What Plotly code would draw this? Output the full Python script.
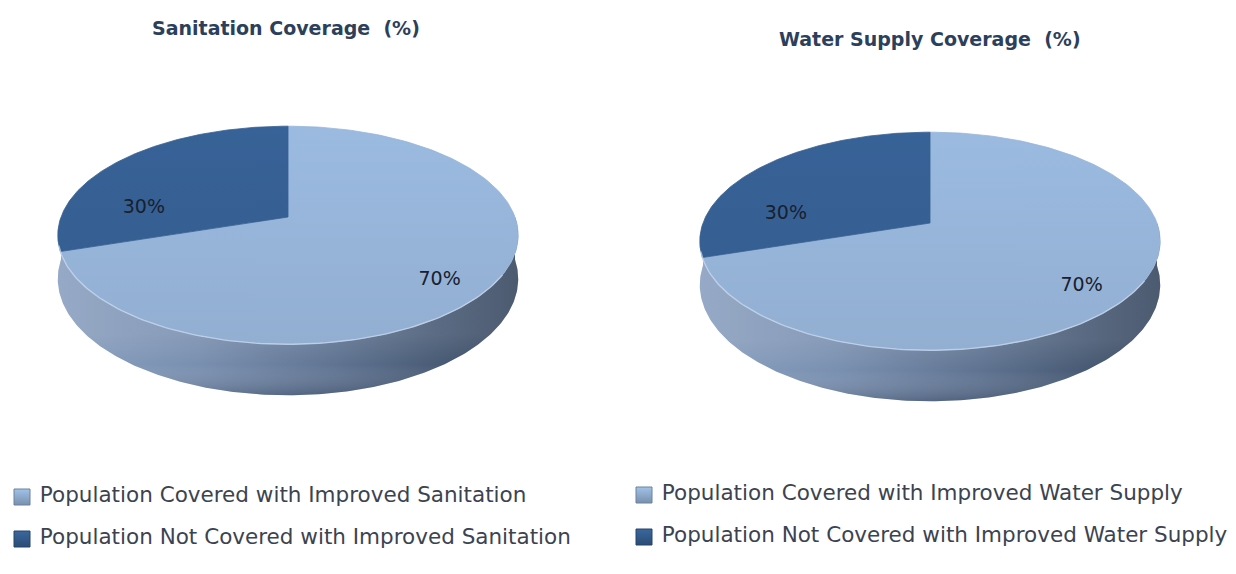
import numpy as np
import plotly.graph_objects as go

# ---- data ----
categories_sanitation = [
    "Population Covered with Improved Sanitation",
    "Population Not Covered with Improved Sanitation",
]
categories_water = [
    "Population Covered with Improved Water Supply",
    "Population Not Covered with Improved Water Supply",
]
sanitation_values = [70, 30]
water_values = [70, 30]
chart_titles = ["Sanitation Coverage  (%)", "Water Supply Coverage  (%)"]

# ---- look ----
W, H = 1236, 574
TOP_COLORS = [(150, 180, 216), (54, 95, 146)]
TEXT_COLOR = "#3c4350"
TITLE_COLOR = "#2c3f5b"
LABEL_COLOR = "#18202e"

# pie geometry (pixels): centre, radii, perspective strength, rim depth
PIES = [
    dict(cx=288, cy=217, title_xy=(286, 28), legend_xy=(22, 497)),
    dict(cx=930, cy=223, title_xy=(930, 39), legend_xy=(644, 495)),
]
RX, RY, PERSP, DEPTH = 227.0, 106.0, 0.167, 42.5
LEGEND_GAP = 42
# label anchors relative to the centre, in units of (RX, RY)
LABEL_ANCHORS = [(0.668, -0.60), (-0.635, 0.085)]

# rim shading, left to right
RIM_SCALE = [
    [0.0, "rgb(138,160,192)"],
    [0.3, "rgb(122,144,176)"],
    [0.6, "rgb(96,116,146)"],
    [0.85, "rgb(70,88,114)"],
    [1.0, "rgb(56,72,96)"],
]


def project(cx, cy, theta, r=1.0, z=0.0):
    """Tilted disc with simple perspective; theta in degrees, z = depth below top."""
    t = np.radians(theta)
    u, v = r * np.cos(t), r * np.sin(t)
    f = 1.0 / (1.0 + PERSP * v)
    return cx + RX * u * f, cy - RY * v * f + z * f


def rgb(c, k=1.0):
    return "rgb(%d,%d,%d)" % tuple(int(max(0, min(255, round(x * k)))) for x in c)


def slice_angles(values):
    # clockwise from 12 o'clock
    total = float(sum(values))
    out, start = [], 90.0
    for v in values:
        end = start - 360.0 * v / total
        out.append((start, end))
        start = end
    return out


fig = go.Figure()
deco = dict(hoverinfo="skip", showlegend=False, mode="lines")

for p, values, cats, title in zip(PIES, [sanitation_values, water_values],
                                  [categories_sanitation, categories_water], chart_titles):
    cx, cy = p["cx"], p["cy"]
    angles = slice_angles(values)

    # rim: front half of the cylinder
    arc = np.linspace(180, 360, 240)
    xt, yt = project(cx, cy, arc)
    xb, yb = project(cx, cy, arc[::-1], z=DEPTH)
    rim_x = np.concatenate([xt, xb, xt[:1]])
    rim_y = np.concatenate([yt, yb, yt[:1]])
    fig.add_trace(go.Scatter(
        x=rim_x, y=rim_y, fill="toself", line=dict(width=0),
        fillgradient=dict(type="horizontal", colorscale=RIM_SCALE,
                          start=cx - RX * 1.02, stop=cx + RX * 1.02),
        **deco))
    # darker towards the bottom edge of the rim
    front_top = cy + RY / (1 - PERSP)
    fig.add_trace(go.Scatter(
        x=rim_x, y=rim_y, fill="toself", line=dict(width=0),
        fillgradient=dict(type="vertical",
                          colorscale=[[0.0, "rgba(255,255,255,0.10)"],
                                      [0.5, "rgba(255,255,255,0.0)"],
                                      [1.0, "rgba(10,20,40,0.22)"]],
                          start=front_top - 10, stop=front_top + DEPTH / (1 - PERSP)),
        **deco))

    # top faces
    for i, (a0, a1) in enumerate(angles):
        arc = np.linspace(a0, a1, 200)
        xs, ys = project(cx, cy, arc)
        col = rgb(TOP_COLORS[i])
        c = TOP_COLORS[i]
        fig.add_trace(go.Scatter(
            x=np.concatenate([[cx], xs, [cx]]), y=np.concatenate([[cy], ys, [cy]]),
            fill="toself", line=dict(width=0.8, color=col),
            fillgradient=dict(type="vertical",
                              colorscale=[[0, rgb(c, 1.04)], [1, rgb(c, 0.97)]],
                              start=cy - RY, stop=cy + RY * 1.2),
            **deco))

    # soft highlight where the top face meets the rim
    arc = np.linspace(195, 330, 120)
    hx, hy = project(cx, cy, arc)
    fig.add_trace(go.Scatter(x=hx, y=hy, line=dict(width=1.4, color="rgba(200,216,236,0.75)"), **deco))

    # percentage labels
    for i, v in enumerate(values):
        a, b = LABEL_ANCHORS[i]
        fig.add_trace(go.Scatter(
            x=[cx + RX * a], y=[cy - RY * b], mode="text", text=["%d%%" % v],
            textfont=dict(family="DejaVu Sans", size=19, color=LABEL_COLOR),
            hoverinfo="skip", showlegend=False))

    # title
    tx, ty = p["title_xy"]
    fig.add_annotation(x=tx, y=ty, xref="x", yref="y", text="<b>%s</b>" % title,
                       showarrow=False, xanchor="center", yanchor="middle",
                       font=dict(family="DejaVu Sans", size=19, color=TITLE_COLOR))

    # legend entries
    lx, ly = p["legend_xy"]
    for i, name in enumerate(cats):
        c = TOP_COLORS[i]
        fig.add_trace(go.Scatter(
            x=[lx], y=[ly + i * LEGEND_GAP], mode="markers+text",
            marker=dict(symbol="square", size=16, color=rgb(c, 1.08),
                        line=dict(width=1, color=rgb(c, 0.72)),
                        gradient=dict(type="vertical", color=rgb(c, 0.8))),
            text=[" " + name], textposition="middle right",
            textfont=dict(family="DejaVu Sans", size=21.5, color=TEXT_COLOR),
            hoverinfo="skip", showlegend=False))

fig.update_layout(
    width=W, height=H, margin=dict(l=0, r=0, t=0, b=0),
    paper_bgcolor="white", plot_bgcolor="white", showlegend=False,
    xaxis=dict(range=[0, W], visible=False, fixedrange=True),
    yaxis=dict(range=[H, 0], visible=False, fixedrange=True),
)

fig.write_html("out.html")
